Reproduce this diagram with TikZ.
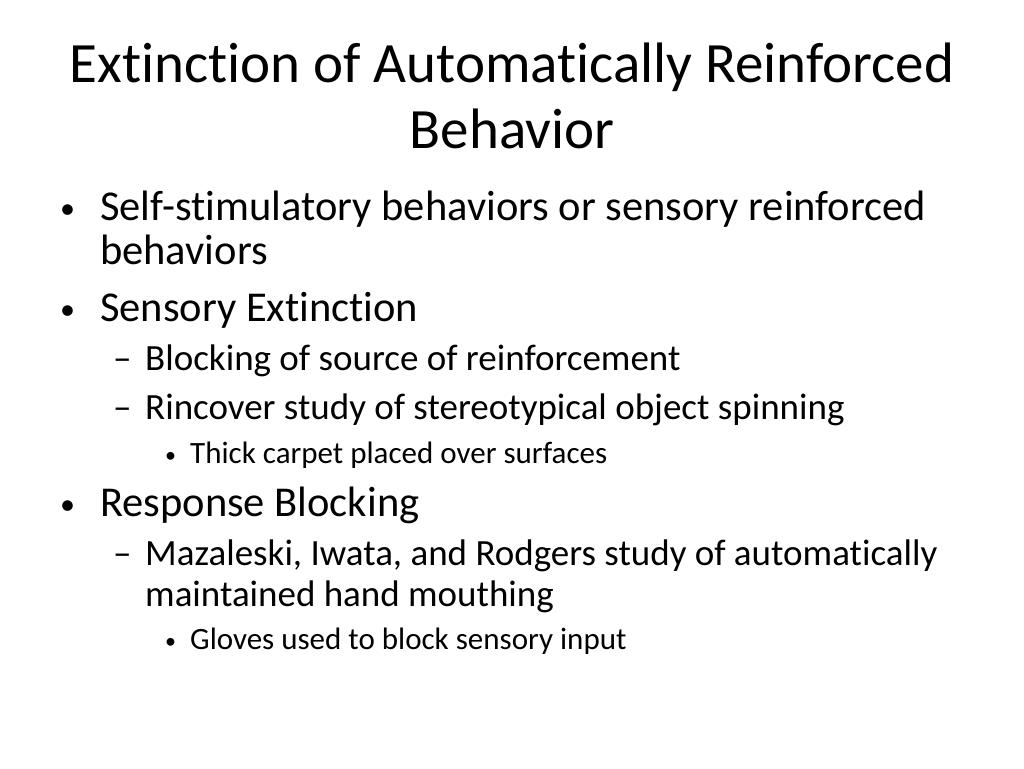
\documentclass[tikz,border=0pt]{standalone}
\usepackage{fontspec}
\setmainfont[Ligatures=NoCommon]{Carlito}
\begin{document}
\begin{tikzpicture}[x=1pt,y=-1pt,
  every node/.style={inner sep=0pt,anchor=base west},
  title/.style={anchor=base,font=\fontsize{57}{64}\selectfont},
  lone/.style={font=\fontsize{42.5}{50}\selectfont},
  ltwo/.style={font=\fontsize{37}{44}\selectfont},
  lthree/.style={font=\fontsize{31}{37}\selectfont},
  dot/.style={font=\fontsize{30}{36}\selectfont}]
  \useasboundingbox (0,0) rectangle (1024,768);

  \node[title] (t1) at (512,82) {Extinction of Automatically Reinforced};
  \node[title] (t2) at (512,148) {Behavior};

  \node[dot] (b1) at (60,218) {•};
  \node[lone] (s1) at (100,220) {Self-stimulatory behaviors or sensory reinforced};
  \node[lone] (s1b) at (100,264) {behaviors};
  \node[dot] (b2) at (60,319) {•};
  \node[lone] (s2) at (100,321) {Sensory Extinction};
  \node[ltwo] (d1) at (113,370) {–};
  \node[ltwo] (s3) at (145,370) {Blocking of source of reinforcement};
  \node[ltwo] (d2) at (113,419) {–};
  \node[ltwo] (s4) at (145,419) {Rincover study of stereotypical object spinning};
  \node[font=\fontsize{22}{26}\selectfont] (c1) at (165,462) {•};
  \node[lthree] (s5) at (190,463) {Thick carpet placed over surfaces};
  \node[dot] (b3) at (60,514) {•};
  \node[lone] (s6) at (100,516) {Response Blocking};
  \node[ltwo] (d3) at (113,565) {–};
  \node[ltwo] (s7) at (145,565) {Mazaleski, Iwata, and Rodgers study of automatically};
  \node[ltwo] (s7b) at (145,606) {maintained hand mouthing};
  \node[font=\fontsize{22}{26}\selectfont] (c2) at (165,648) {•};
  \node[lthree] (s8) at (190,649) {Gloves used to block sensory input};
\end{tikzpicture}
\end{document}
